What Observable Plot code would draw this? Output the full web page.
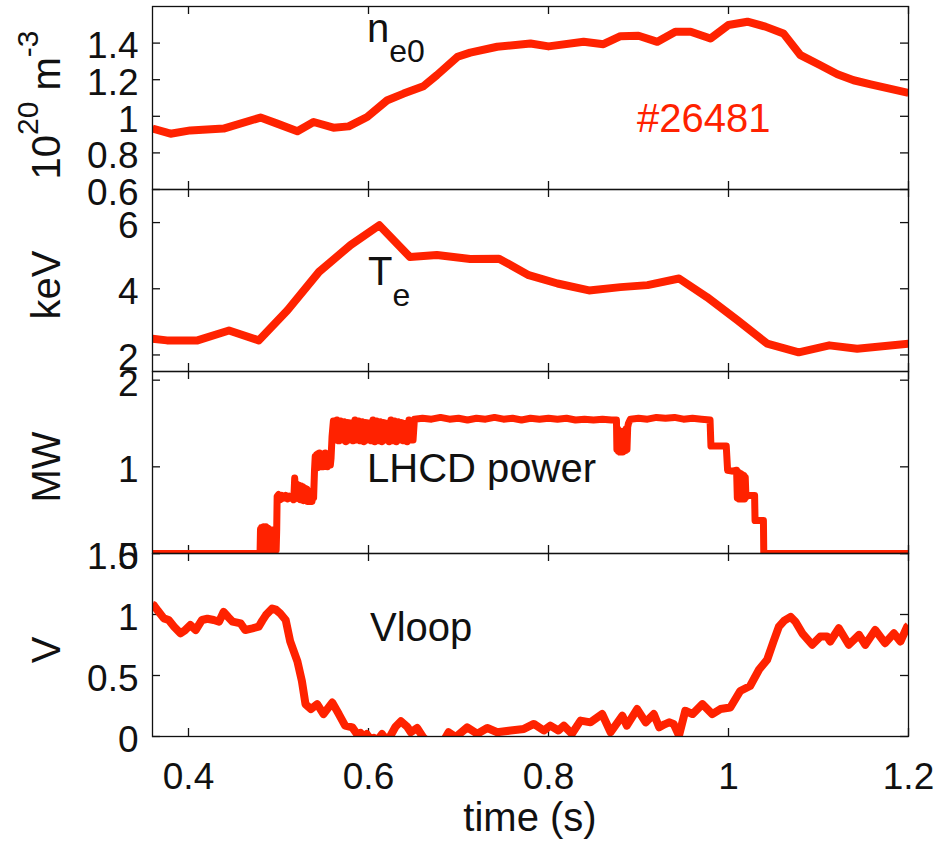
<!DOCTYPE html>
<html>
<head>
<meta charset="utf-8">
<script src="https://cdn.jsdelivr.net/npm/d3@7"></script>
<script src="https://cdn.jsdelivr.net/npm/@observablehq/plot@0.6"></script>
<style>
  html, body { margin: 0; padding: 0; background: white; }
  #wrap { position: relative; width: 940px; height: 846px; overflow: hidden; }
  #wrap svg { position: absolute; left: 0; }
</style>
</head>
<body>
<div id="wrap"></div>
<script>
const RED = "#ff2200";
const FONT = "'Liberation Sans', Arial, Helvetica, sans-serif";

// x ticks (time, s)
const xTicks = [0.4, 0.6, 0.8, 1.0, 1.2];

// Panel 1: central electron density n_e0 (1e20 m^-3)
const ne0Ticks = [0.6, 0.8, 1.0, 1.2, 1.4];
const ne0 = [
  [0.360,0.933],[0.380,0.905],[0.402,0.923],[0.439,0.933],[0.480,0.993],[0.4985,0.960],
  [0.521,0.918],[0.539,0.969],[0.561,0.938],[0.578,0.945],[0.5985,0.996],[0.621,1.088],
  [0.639,1.124],[0.661,1.164],[0.676,1.225],[0.699,1.325],[0.713,1.348],[0.743,1.380],
  [0.780,1.398],[0.800,1.382],[0.839,1.407],[0.861,1.394],[0.880,1.438],[0.900,1.440],
  [0.921,1.407],[0.941,1.462],[0.958,1.462],[0.980,1.425],[1.000,1.499],[1.021,1.517],
  [1.041,1.490],[1.061,1.453],[1.080,1.334],[1.102,1.279],[1.121,1.230],[1.139,1.197],
  [1.158,1.175],[1.200,1.128]
];

// Panel 2: electron temperature T_e (keV)
const teTicks = [2, 4, 6];
const te = [
  [0.360,2.49],[0.376,2.44],[0.410,2.44],[0.445,2.74],[0.478,2.44],[0.510,3.35],
  [0.545,4.51],[0.580,5.32],[0.612,5.92],[0.646,4.96],[0.676,5.02],[0.713,4.90],
  [0.745,4.91],[0.778,4.41],[0.810,4.16],[0.845,3.95],[0.880,4.05],[0.910,4.11],
  [0.945,4.31],[0.976,3.75],[1.010,3.05],[1.043,2.34],[1.078,2.08],[1.112,2.29],
  [1.143,2.19],[1.200,2.34]
];

// Panel 3: LHCD power (MW)
const lhcdTicks = [0, 1, 2];
const lhcd = [
  [0.360,0],[0.4795,0],
  [0.4800,0.28],[0.4806,0.03],[0.4812,0.30],[0.4818,0.05],[0.4824,0.29],[0.4830,0.04],
  [0.4836,0.31],[0.4842,0.06],[0.4848,0.28],[0.4854,0.03],[0.4860,0.31],[0.4866,0.05],
  [0.4872,0.27],[0.4878,0.04],[0.4884,0.29],[0.4890,0.03],[0.4896,0.28],[0.4902,0.05],
  [0.4908,0.27],[0.4914,0.03],[0.4920,0.26],[0.4926,0.04],[0.4932,0.27],[0.4938,0.03],
  [0.4944,0.25],[0.4950,0.02],[0.4956,0.26],[0.4962,0.03],[0.4968,0.25],[0.4974,0.04],
  [0.4980,0.27],
  [0.4985,0.66],[0.5000,0.68],[0.5020,0.62],[0.5040,0.67],[0.5060,0.64],[0.5080,0.67],
  [0.5100,0.63],[0.5120,0.66],[0.5140,0.64],[0.5160,0.67],[0.5170,0.62],
  [0.5180,0.87],[0.5188,0.72],[0.5196,0.66],[0.5204,0.80],[0.5212,0.64],[0.5220,0.79],
  [0.5228,0.63],[0.5236,0.78],[0.5244,0.62],[0.5252,0.78],[0.5260,0.63],[0.5268,0.77],
  [0.5276,0.61],[0.5284,0.76],[0.5292,0.62],[0.5300,0.75],[0.5308,0.61],[0.5316,0.74],
  [0.5324,0.60],[0.5332,0.72],[0.5340,0.61],[0.5348,0.71],[0.5356,0.60],[0.5364,0.70],
  [0.5372,0.60],[0.5380,0.68],[0.5390,0.64],
  [0.5400,0.96],[0.5408,1.12],[0.5416,1.00],[0.5424,1.14],[0.5432,0.99],[0.5440,1.15],
  [0.5448,1.01],[0.5456,1.16],[0.5464,1.00],[0.5472,1.15],[0.5480,1.02],[0.5488,1.14],
  [0.5496,1.00],[0.5504,1.15],[0.5512,1.01],[0.5520,1.16],[0.5528,1.02],[0.5536,1.14],
  [0.5544,1.00],[0.5552,1.13],[0.5560,1.02],[0.5568,1.12],[0.5576,1.02],[0.5584,1.10],
  [0.5595,1.35],
  [0.561,1.53],[0.563,1.31],[0.565,1.54],[0.567,1.30],[0.569,1.53],[0.571,1.31],
  [0.573,1.52],[0.575,1.29],[0.577,1.51],[0.579,1.31],[0.581,1.50],[0.583,1.30],
  [0.585,1.54],[0.587,1.31],[0.589,1.53],[0.591,1.30],[0.593,1.52],[0.595,1.29],
  [0.597,1.51],[0.599,1.31],[0.601,1.50],[0.603,1.30],[0.605,1.54],[0.607,1.29],
  [0.609,1.53],[0.611,1.30],[0.613,1.52],[0.615,1.29],[0.617,1.51],[0.619,1.31],
  [0.621,1.50],[0.623,1.29],[0.625,1.54],[0.627,1.30],[0.629,1.53],[0.631,1.29],
  [0.633,1.52],[0.635,1.31],[0.637,1.51],[0.639,1.30],[0.641,1.50],[0.643,1.29],
  [0.645,1.54],[0.647,1.31],[0.649,1.52],[0.6495,1.31],
  [0.651,1.55],[0.660,1.56],[0.670,1.55],[0.680,1.57],[0.690,1.55],[0.700,1.56],
  [0.710,1.54],[0.720,1.56],[0.730,1.55],[0.740,1.57],[0.750,1.55],[0.760,1.56],
  [0.770,1.54],[0.780,1.56],[0.790,1.55],[0.800,1.56],[0.810,1.55],[0.820,1.56],
  [0.830,1.54],[0.840,1.55],[0.850,1.54],[0.860,1.55],[0.870,1.54],[0.8755,1.54],
  [0.8760,1.20],[0.8768,1.44],[0.8776,1.18],[0.8784,1.42],[0.8792,1.17],[0.8800,1.40],
  [0.8808,1.18],[0.8816,1.40],[0.8824,1.17],[0.8832,1.41],[0.8840,1.18],[0.8848,1.42],
  [0.8856,1.19],[0.8864,1.44],[0.8872,1.20],[0.8880,1.46],[0.8888,1.50],[0.891,1.55],
  [0.900,1.56],[0.910,1.55],[0.920,1.57],[0.930,1.56],[0.940,1.57],[0.950,1.55],
  [0.960,1.56],[0.970,1.55],[0.9795,1.54],
  [0.9805,1.24],[0.990,1.24],[0.9975,1.24],[0.9990,0.96],[1.004,0.95],[1.009,0.96],
  [1.0098,0.64],[1.0106,0.94],[1.0114,0.63],[1.0122,0.93],[1.0130,0.64],[1.0138,0.92],
  [1.0146,0.63],[1.0154,0.91],[1.0162,0.64],[1.0170,0.90],[1.0178,0.63],[1.0186,0.88],
  [1.0194,0.65],[1.0205,0.67],[1.029,0.67],
  [1.0295,0.38],[1.0388,0.38],[1.0392,0],[1.200,0]
];
// Envelope of the fast LHCD power fluctuations: [segment, t, low, high]
const lhcdBands = [
  ["a",0.4800,0.03,0.29],["a",0.4975,0.03,0.27],
  ["b",0.5180,0.62,0.84],["b",0.5250,0.62,0.78],["b",0.5320,0.61,0.74],["b",0.5385,0.61,0.68],
  ["c",0.5405,1.00,1.13],["c",0.5500,1.01,1.15],["c",0.5580,1.02,1.11],
  ["d",0.5610,1.30,1.53],["d",0.6050,1.30,1.53],["d",0.6495,1.30,1.52],
  ["e",0.8762,1.18,1.42],["e",0.8830,1.18,1.41],["e",0.8878,1.20,1.45],
  ["f",1.0100,0.64,0.93],["f",1.0190,0.64,0.88]
];

// Panel 4: loop voltage (V)
const vloopTicks = [0, 0.5, 1, 1.5];
const vloop = [
  [0.360,1.08],[0.3615,1.076],[0.366,1.03],[0.3726,0.968],[0.378,0.955],[0.384,0.90],
  [0.391,0.846],[0.396,0.87],[0.402,0.914],[0.408,0.873],[0.415,0.955],[0.421,0.965],
  [0.428,0.955],[0.434,0.941],[0.439,1.022],[0.444,0.98],[0.449,0.941],[0.458,0.927],
  [0.463,0.873],[0.471,0.886],[0.478,0.90],[0.482,0.95],[0.486,0.995],[0.493,1.049],
  [0.497,1.04],[0.502,1.008],[0.508,0.955],[0.513,0.779],[0.521,0.616],[0.526,0.454],
  [0.530,0.265],[0.536,0.225],[0.543,0.265],[0.550,0.184],[0.5597,0.278],[0.567,0.184],
  [0.574,0.089],[0.582,0.075],[0.587,0.022],[0.591,0.03],[0.595,-0.005],[0.598,0.02],
  [0.602,-0.02],[0.606,-0.01],[0.610,-0.03],[0.615,0.02],[0.619,-0.02],[0.624,0.0],
  [0.630,0.08],[0.636,0.125],[0.643,0.08],[0.647,0.035],[0.654,0.07],[0.661,-0.01],
  [0.666,-0.04],[0.675,-0.05],[0.684,-0.03],[0.689,0.035],[0.697,-0.005],[0.7097,0.075],
  [0.721,0.022],[0.732,0.07],[0.743,0.035],[0.758,0.049],[0.7726,0.062],[0.7837,0.103],
  [0.7948,0.049],[0.802,0.089],[0.811,0.049],[0.817,0.089],[0.826,0.022],[0.8356,0.13],
  [0.8467,0.116],[0.8596,0.184],[0.869,0.035],[0.882,0.17],[0.887,0.089],[0.8985,0.225],
  [0.908,0.116],[0.917,0.184],[0.923,0.075],[0.929,0.10],[0.934,0.116],[0.939,0.103],
  [0.945,0.008],[0.952,0.211],[0.960,0.184],[0.971,0.265],[0.982,0.184],[0.991,0.225],
  [1.002,0.238],[1.013,0.373],[1.024,0.414],[1.034,0.549],[1.043,0.63],[1.050,0.779],
  [1.056,0.90],[1.062,0.95],[1.069,0.981],[1.0744,0.941],[1.082,0.846],[1.093,0.752],
  [1.102,0.819],[1.1097,0.819],[1.113,0.779],[1.1226,0.887],[1.1337,0.752],[1.145,0.833],
  [1.152,0.752],[1.163,0.873],[1.174,0.765],[1.1837,0.846],[1.191,0.779],[1.1985,0.90],
  [1.200,0.91]
];

const W = 940, ML = 152, MR = 32;
const INNER = W - ML - MR;
const wrap = document.getElementById("wrap");
const fmt = d => String(+(+d).toFixed(3));

function panel({data, bands, yDomain, yTicks, frameTop, h, showX, sw}) {
  const mt = 20, mb = showX ? 110 : 20;
  const marks = [
    Plot.axisY({ticks: yTicks, tickSize: 0, tickPadding: 14, label: null, dy: 3.5, tickFormat: fmt}),
    Plot.axisX({ticks: xTicks, tickSize: 0, tickPadding: 26, label: null,
                tickFormat: showX ? fmt : () => ""}),
    Plot.tickY(yTicks, {y: d => d, insetRight: INNER - 8, stroke: "#111", strokeWidth: 1.3}),
    Plot.tickY(yTicks, {y: d => d, insetLeft: INNER - 8, stroke: "#111", strokeWidth: 1.3}),
    Plot.tickX(xTicks, {x: d => d, insetBottom: h - 8, stroke: "#111", strokeWidth: 1.3}),
    Plot.tickX(xTicks, {x: d => d, insetTop: h - 8, stroke: "#111", strokeWidth: 1.3}),
    bands ? Plot.areaY(bands, {x: d => d[1], y1: d => d[2], y2: d => d[3], z: d => d[0],
                               fill: RED, stroke: RED, strokeWidth: 2, clip: true}) : null,
    Plot.line(data, {x: d => d[0], y: d => d[1], stroke: RED, strokeWidth: sw,
                     strokeLinejoin: "round", strokeLinecap: "butt", clip: true}),
    Plot.frame({stroke: "#111", strokeWidth: 1.3})
  ];
  const svg = Plot.plot({
    width: W, height: h + mt + mb,
    marginLeft: ML, marginRight: MR, marginTop: mt, marginBottom: mb,
    style: {background: "transparent", overflow: "visible", fontFamily: FONT,
            fontSize: "37px", color: "#111"},
    x: {domain: [0.36, 1.2]},
    y: {domain: yDomain},
    marks
  });
  svg.style.top = (frameTop - mt) + "px";
  wrap.appendChild(svg);
}

panel({data: ne0, yDomain: [0.6, 1.6], yTicks: ne0Ticks, frameTop: 6, h: 183, showX: false, sw: 8});
panel({data: te, yDomain: [1.5, 7], yTicks: teTicks, frameTop: 189, h: 182, showX: false, sw: 8});
panel({data: lhcd, bands: lhcdBands, yDomain: [0, 2.1], yTicks: lhcdTicks, frameTop: 371, h: 182, showX: false, sw: 7});
panel({data: vloop, yDomain: [0, 1.5], yTicks: vloopTicks, frameTop: 553, h: 183, showX: true, sw: 8});

// Text overlay: axis titles and annotations
const ov = d3.select(wrap).append("svg")
  .attr("width", W).attr("height", 846)
  .style("top", "0px")
  .style("font-family", FONT)
  .style("overflow", "visible");

function ylab(x, y, parts) {
  const t = ov.append("text")
    .attr("transform", `translate(${x},${y}) rotate(-90)`)
    .attr("text-anchor", "middle").attr("fill", "#111").attr("font-size", 40);
  parts.forEach(p => t.append("tspan").text(p.t).attr("font-size", p.s || 40).attr("dy", p.dy || 0));
}
ylab(60, 105, [{t: "10"}, {t: "20", s: 30, dy: -22}, {t: " m", dy: 22}, {t: "-3", s: 30, dy: -22}]);
ylab(60, 285, [{t: "keV"}]);
ylab(60, 467, [{t: "MW"}]);
ylab(60, 650, [{t: "V"}]);

function ann(x, y, parts, fill = "#111", anchor = "start") {
  const t = ov.append("text").attr("x", x).attr("y", y)
    .attr("fill", fill).attr("font-size", 40).attr("text-anchor", anchor);
  parts.forEach(p => t.append("tspan").text(p.t).attr("font-size", p.s || 40).attr("dy", p.dy || 0));
}
ann(367, 42, [{t: "n"}, {t: "e0", s: 32, dy: 20}]);
ann(637, 131.5, [{t: "#26481"}], RED);
ann(368, 285, [{t: "T"}, {t: "e", s: 32, dy: 21}]);
ann(367, 481.5, [{t: "LHCD power"}]);
ann(370, 641, [{t: "Vloop"}]);
ann(530, 831, [{t: "time (s)"}], "#111", "middle");
</script>
</body>
</html>
